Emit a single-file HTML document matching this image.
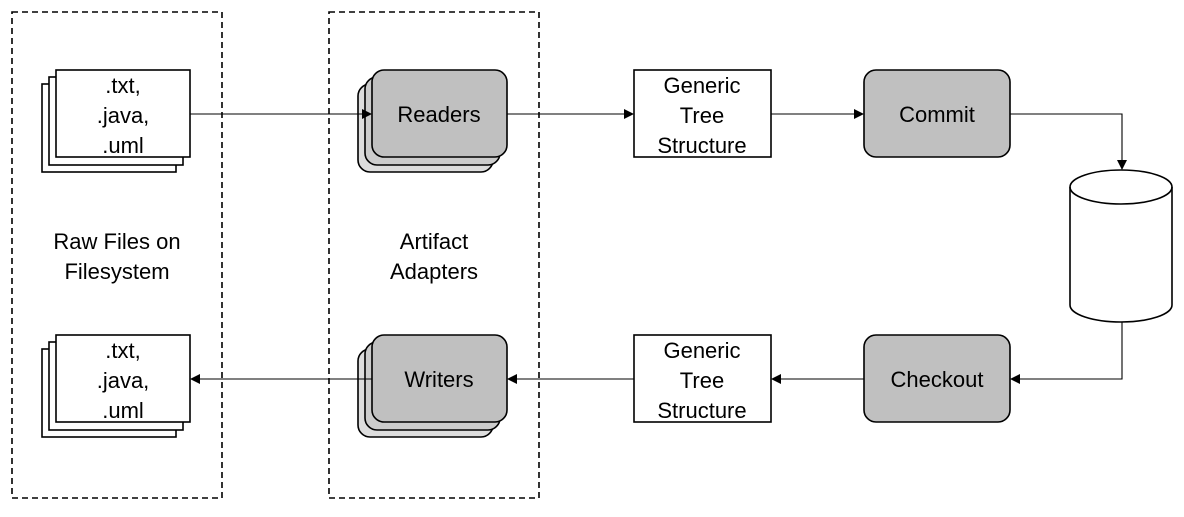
<!DOCTYPE html>
<html><head><style>body{margin:0;background:#fff}text{font-family:"Liberation Sans",Arial,sans-serif;font-size:22px}</style></head><body>
<svg width="1184" height="512" xmlns="http://www.w3.org/2000/svg" text-anchor="middle">
<defs><marker id="a" markerWidth="10" markerHeight="10" refX="9" refY="5" orient="auto" markerUnits="userSpaceOnUse"><path d="M0,0 L10,5 L0,10 z" fill="#000"/></marker></defs>
<g fill="none" stroke="#000" stroke-width="1.6" stroke-dasharray="6,4">
<rect x="12" y="12" width="210" height="486"/><rect x="329" y="12" width="210" height="486"/></g>
<g stroke="#000" stroke-width="1.6" fill="#fff">
<rect x="42" y="84" width="134" height="88"/><rect x="49" y="77" width="134" height="88"/><rect x="56" y="70" width="134" height="87"/>
<rect x="42" y="349" width="134" height="88"/><rect x="49" y="342" width="134" height="88"/><rect x="56" y="335" width="134" height="87"/>
<rect x="358" y="84" width="135" height="88" rx="12" fill="#ddd"/><rect x="365" y="77" width="135" height="88" rx="12" fill="#ccc"/><rect x="372" y="70" width="135" height="87" rx="12" fill="#c0c0c0"/>
<rect x="358" y="349" width="135" height="88" rx="12" fill="#ddd"/><rect x="365" y="342" width="135" height="88" rx="12" fill="#ccc"/><rect x="372" y="335" width="135" height="87" rx="12" fill="#c0c0c0"/>
<rect x="634" y="70" width="137" height="87"/><rect x="634" y="335" width="137" height="87"/>
<rect x="864" y="70" width="146" height="87" rx="12" fill="#c0c0c0"/><rect x="864" y="335" width="146" height="87" rx="12" fill="#c0c0c0"/>
<path d="M1070,187 A51,17 0 0 1 1172,187 V305 A51,17 0 0 1 1070,305 Z"/><path d="M1070,187 A51,17 0 0 0 1172,187" fill="none"/>
</g>
<g stroke="#000" stroke-width="1.1" fill="none" marker-end="url(#a)">
<path d="M190,114 H371"/><path d="M507,114 H633"/><path d="M771,114 H863"/><path d="M1010,114 H1122 V169"/>
<path d="M1122,322 V379 H1011"/><path d="M864,379 H772"/><path d="M634,379 H508"/><path d="M372,379 H191"/>
</g>
<text x="123" y="93">.txt,</text><text x="123" y="123">.java,</text><text x="123" y="153">.uml</text>
<text x="123" y="358">.txt,</text><text x="123" y="388">.java,</text><text x="123" y="418">.uml</text>
<text x="117" y="249">Raw Files on</text><text x="117" y="279">Filesystem</text>
<text x="434" y="249">Artifact</text><text x="434" y="279">Adapters</text>
<text x="439" y="122">Readers</text><text x="439" y="387">Writers</text>
<text x="702" y="93">Generic</text><text x="702" y="123">Tree</text><text x="702" y="153">Structure</text>
<text x="702" y="358">Generic</text><text x="702" y="388">Tree</text><text x="702" y="418">Structure</text>
<text x="937" y="122">Commit</text><text x="937" y="387">Checkout</text>
</svg></body></html>
